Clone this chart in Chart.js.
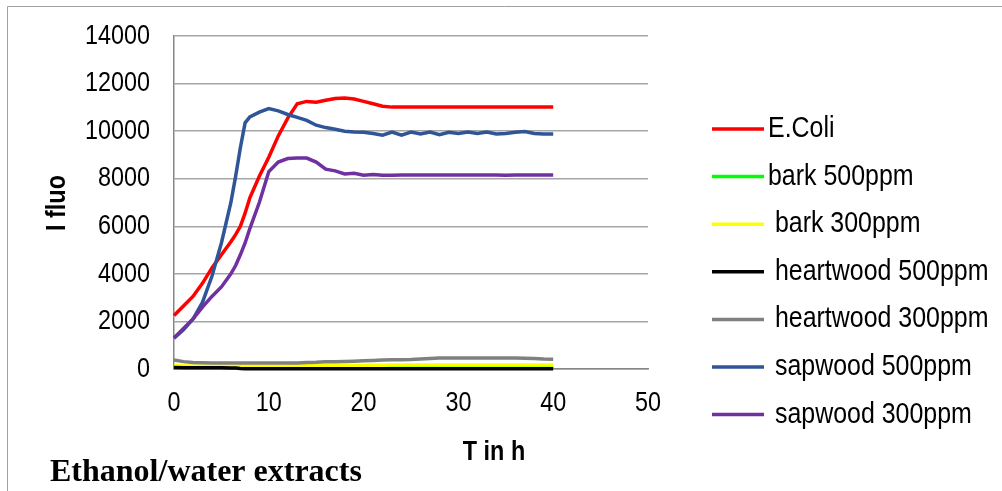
<!DOCTYPE html>
<html>
<head>
<meta charset="utf-8">
<script src="https://cdn.jsdelivr.net/npm/chart.js@4"></script>
<style>
  html, body { margin: 0; padding: 0; background: #fff; }
  #wrap { position: relative; width: 1002px; height: 491px; }
</style>
</head>
<body>
<div id="wrap"><canvas id="chart" width="1002" height="491"></canvas></div>
<script>
// time axis (h) and fluorescence readings per extract
const hours = [0,1,2,3,4,5,6,6.5,7,7.5,8,9,10,11,12,13,14,15,16,17,18,19,20,21,22,23,24,25,26,27,28,29,30,31,32,33,34,35,36,37,38,39,40];

const eColi = [2250,2650,3050,3600,4250,4800,5350,5650,6000,6550,7200,8100,8900,9800,10550,11150,11250,11220,11300,11370,11390,11350,11250,11150,11050,
  11010,11010,11010,11010,11010,11010,11010,11010,11010,11010,11010,11010,11010,11010,11010,11010,11010,11010];
const bark500 = [90,80,75,70,70,70,70,70,70,70,70,70,70,70,70,70,70,70,70,70,70,70,70,70,70,
  70,70,70,70,70,70,70,70,70,70,70,70,70,70,70,70,70,70];
const bark300 = [150,135,130,130,130,130,130,130,130,130,130,130,130,130,130,135,135,140,140,145,145,150,150,155,160,
  165,170,170,170,170,170,170,170,170,170,170,170,170,170,170,170,170,170];
const heart500 = [60,55,50,50,50,50,45,40,25,15,10,10,10,10,10,10,10,10,10,10,10,10,10,10,10,
  10,10,10,10,10,10,10,10,10,10,10,10,10,10,10,10,10,10];
const heart300 = [380,310,270,260,255,250,250,250,250,250,250,250,250,250,250,250,270,280,300,310,320,330,345,360,380,
  390,390,400,420,440,460,460,460,460,460,460,460,460,460,455,440,420,410];
const sap500 = [1300,1650,2100,2800,3900,5300,7000,8100,9300,10350,10600,10800,10950,10850,10700,10580,10450,10250,10150,10080,10000,9960,9950,9900,9830,
  9960,9830,9960,9880,9960,9850,9950,9900,9960,9900,9960,9880,9900,9950,9980,9900,9880,9880];
const sap300 = [1300,1700,2100,2600,3050,3450,4000,4350,4800,5300,5900,7000,8300,8700,8850,8870,8870,8700,8400,8330,8200,8230,8150,8180,8150,
  8150,8160,8160,8160,8160,8160,8160,8160,8160,8160,8160,8160,8150,8160,8160,8160,8160,8160];

const seriesNames = ['E.Coli', 'bark 500ppm', ' bark 300ppm', ' heartwood 500ppm', ' heartwood 300ppm', ' sapwood 500ppm', ' sapwood 300ppm'];
const seriesValues = [eColi, bark500, bark300, heart500, heart300, sap500, sap300];
const seriesColors = ['#ff0000', '#00ff00', '#ffff00', '#000000', '#808080', '#2f5597', '#7030a0'];

const xTicks = [0, 10, 20, 30, 40, 50];
const yTicks = [0, 2000, 4000, 6000, 8000, 10000, 12000, 14000];

const SANS = "'Liberation Sans', Arial, sans-serif";
const SERIF = "'Liberation Serif', 'Times New Roman', serif";
const GRID = '#a6a6a6';

const datasets = seriesNames.map((name, i) => ({
  label: name.trim(),
  data: seriesValues[i].map((v, k) => ({ x: hours[k], y: v })),
  borderColor: seriesColors[i],
  backgroundColor: seriesColors[i],
  borderWidth: 3.5,
  pointRadius: 0,
  tension: 0,
  fill: false,
  clip: 6,
  order: -i   // later series on top, like the source
}));

// source uses a narrow sans face; squeeze the regular one horizontally
function narrowText(c, text, x, y, align, squeeze) {
  c.save();
  c.translate(x, y);
  c.scale(squeeze, 1);
  c.textAlign = align;
  c.fillText(text, 0, 0);
  c.restore();
}

// frame, tick labels, axis titles, caption and legend
const decor = {
  id: 'decor',
  beforeDraw(chart) {
    const c = chart.ctx;
    c.save();
    c.strokeStyle = '#a0a0a0';
    c.lineWidth = 1;
    c.beginPath();
    c.moveTo(7.5, 491); c.lineTo(7.5, 6.5); c.lineTo(1002, 6.5);
    c.stroke();
    c.restore();
  },
  afterDraw(chart) {
    const c = chart.ctx;
    const xs = chart.scales.x, ys = chart.scales.y;
    c.save();
    c.fillStyle = '#000';
    c.textBaseline = 'middle';

    c.font = '28px ' + SANS;
    ys.ticks.forEach(t => narrowText(c, String(t.value), 150, ys.getPixelForValue(t.value), 'right', 0.835));
    xs.ticks.forEach(t => narrowText(c, String(t.value), xs.getPixelForValue(t.value), 403, 'center', 0.835));

    c.font = 'bold 28px ' + SANS;
    narrowText(c, 'T in h', 494, 452, 'center', 0.835);
    c.save();
    c.translate(57, 203);
    c.rotate(-Math.PI / 2);
    narrowText(c, 'I fluo', 0, 0, 'center', 0.835);
    c.restore();

    c.font = '29px ' + SANS;
    seriesNames.forEach((name, i) => {
      const y = 129 + i * 47.6;
      c.strokeStyle = seriesColors[i];
      c.lineWidth = 3.5;
      c.beginPath();
      c.moveTo(712, y); c.lineTo(764, y);
      c.stroke();
      narrowText(c, name, 768, y, 'left', 0.86);
    });

    c.font = 'bold 32px ' + SERIF;
    c.textBaseline = 'alphabetic';
    c.textAlign = 'left';
    c.fillText('Ethanol/water extracts', 50, 481);
    c.restore();
  }
};

new Chart(document.getElementById('chart'), {
  type: 'line',
  data: { datasets },
  options: {
    responsive: false,
    animation: false,
    events: [],
    layout: { padding: { left: 0, top: 36, right: 354, bottom: 0 } },
    plugins: { legend: { display: false }, tooltip: { enabled: false } },
    scales: {
      x: {
        type: 'linear',
        min: 0, max: 50,
        afterBuildTicks: s => { s.ticks = xTicks.map(v => ({ value: v })); },
        afterFit: s => { s.height = 122; },
        grid: { display: false, drawTicks: false },
        border: { display: true, color: '#868686', width: 1.5 },
        ticks: { display: false }
      },
      y: {
        min: 0, max: 14000,
        afterBuildTicks: s => { s.ticks = yTicks.map(v => ({ value: v })); },
        afterFit: s => { s.width = 174; },
        grid: { color: GRID, lineWidth: 1.5, drawTicks: false },
        border: { display: true, color: '#868686', width: 1.5 },
        ticks: { display: false }
      }
    }
  },
  plugins: [decor]
});
</script>
</body>
</html>
